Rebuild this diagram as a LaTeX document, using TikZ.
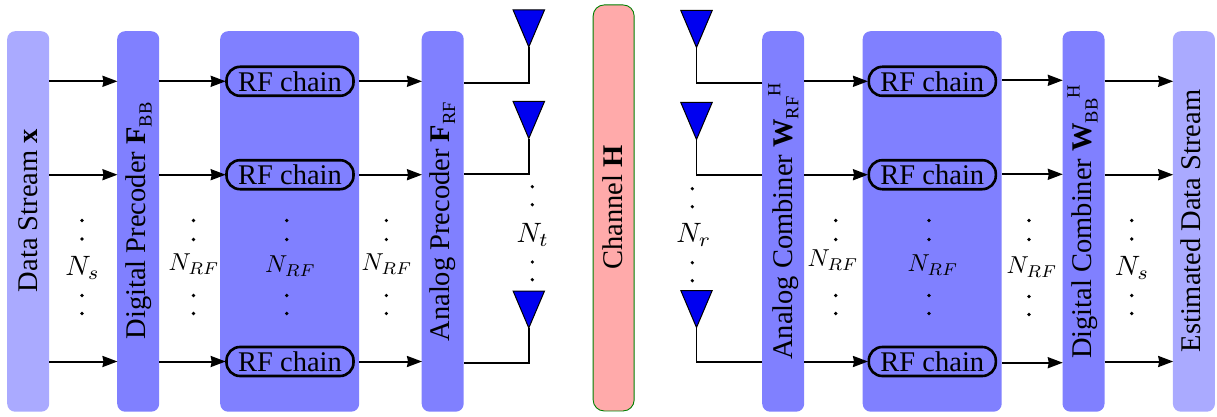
\documentclass[tikz,border=0pt]{standalone}
\usepackage{fontspec}
\usepackage{graphicx}
\setmainfont{Liberation Serif}
\usetikzlibrary{arrows.meta}
\newcommand{\lowtxt}[1]{\raisebox{-6pt}{\fontsize{18.5}{20}\selectfont #1}}
\newcommand{\hightxt}[1]{\raisebox{12pt}{\fontsize{18.5}{20}\selectfont #1}}
\newcommand{\mathlabel}[1]{\scalebox{2.45}{$#1$}}
\newcommand{\biglabel}[1]{\scalebox{2.8}{$#1$}}
\tikzset{
  x=1pt,y=-1pt,
  blockbox/.style={minimum height=380.5pt,inner sep=0pt,rounded corners=8pt,draw=none,anchor=north west},
  lightbox/.style={blockbox,fill=boxlight,minimum width=42pt},
  midbox/.style={blockbox,fill=boxmid,minimum width=42pt},
  rfbox/.style={blockbox,fill=boxmid,minimum width=139pt},
  chanbox/.style={blockbox,fill=chanfill,draw=chanedge,line width=0.9pt,minimum width=41pt,minimum height=406pt,rounded corners=11pt},
  chainbox/.style={draw=black,line width=2.6pt,rounded corners=13.5pt,minimum width=127pt,minimum height=29pt,inner sep=0pt,font=\fontsize{28.5}{30}\selectfont},
  rottext/.style={rotate=90,anchor=base,inner sep=0pt,font=\fontsize{28.5}{30}\selectfont},
  conn/.style={draw=black,line width=2pt},
  arrowconn/.style={conn,-{Stealth[length=15pt,width=11pt,inset=1pt]},shorten >=-0.5pt},
  antenna/.style={draw=black,fill=antblue,line width=1pt,line join=miter},
  feed/.style={draw=black,line width=1.7pt},
  dotmark/.style={fill=black},
  mlabel/.style={inner sep=0pt}
}
\definecolor{boxlight}{HTML}{AAAAFF}
\definecolor{boxmid}{HTML}{8080FF}
\definecolor{chanfill}{HTML}{FFAAAA}
\definecolor{chanedge}{HTML}{008000}
\definecolor{antblue}{HTML}{0000F0}
\newcommand{\antennaat}[3]{% apex name, apex x, apex y
  \coordinate (#1) at (#2,#3);
  \path[antenna] (#2,#3) -- ++(-15.7,-37) -- ++(31.4,0) -- cycle;}
\newcommand{\dotcol}[5]{%
  \foreach \yy in {#2,#3,#4,#5} {\fill[dotmark] (#1,\yy) circle (1.8);}}
\begin{document}
\begin{tikzpicture}
\path[use as bounding box] (0,0) rectangle (1217,417);
\fill[white] (0,0) rectangle (1217,417);
% row references
\coordinate (r1) at (0,81.3);
\coordinate (r2) at (0,174.7);
\coordinate (r3) at (0,361.5);
% blocks
\node[lightbox] (data) at (7,31) {};
\node[midbox] (dp) at (117,31) {};
\node[rfbox] (rfa) at (220,31) {};
\node[midbox] (ap) at (421.5,31) {};
\node[chanbox] (chan) at (592.7,4.5) {};
\node[midbox] (ac) at (762,31) {};
\node[rfbox] (rfb) at (862.5,31) {};
\node[midbox] (dc) at (1062.3,31) {};
\node[lightbox] (est) at (1172.7,31) {};
% rotated texts
\node[rottext] (t1) at (37.7,210.5) {Data Stream \textbf{x}};
\node[rottext] (t2) at (145.7,221) {Digital Precoder \textbf{F}\lowtxt{BB}};
\node[rottext] (t3) at (449,221.7) {Analog Precoder \textbf{F}\lowtxt{RF}};
\node[rottext] (t4) at (622.3,207.7) {Channel \textbf{H}};
\node[rottext] (t5) at (792.3,221.5) {Analog Combiner \textbf{W}\lowtxt{RF}\hightxt{H}};
\node[rottext] (t6) at (1091.7,222) {Digital Combiner \textbf{W}\lowtxt{BB}\hightxt{H}};
\node[rottext] (t7) at (1200,221) {Estimated Data Stream};
% RF chains
\foreach \n/\yy in {1/81.3,2/174.7,3/361.5} {
  \node[chainbox] (ca\n) at (290,\yy) {RF chain};
  \node[chainbox] (cb\n) at (932.3,\yy) {RF chain};
}
% arrows
\foreach \n in {1,2,3} {
  \draw[arrowconn] (data.east |- r\n) -- (dp.west |- r\n);
  \draw[arrowconn] (dp.east |- r\n) -- (ca\n.west);
  \draw[arrowconn] (rfa.east |- r\n) -- (ap.west |- r\n);
  \draw[arrowconn] (ac.east |- r\n) -- (cb\n.west);
  \draw[arrowconn] (dc.east |- r\n) -- (est.west |- r\n);
}
\coordinate (s1) at (0,80.3);
\coordinate (s2) at (0,174.3);
\coordinate (s3) at (0,362.7);
\foreach \n in {1,2,3} {
  \draw[arrowconn] (rfb.east |- s\n) -- (dc.west |- s\n);
}
% antennas
\antennaat{ta1}{528.8}{47}
\antennaat{ta2}{528.8}{138.5}
\antennaat{ta3}{528.8}{328}
\antennaat{ra1}{696.5}{47.5}
\antennaat{ra2}{696.5}{139.5}
\antennaat{ra3}{696.5}{327.5}
\coordinate (p1) at (0,82.7);
\coordinate (p2) at (0,174.3);
\coordinate (p3) at (0,363.3);
\coordinate (q1) at (0,83);
\coordinate (q2) at (0,175);
\coordinate (q3) at (0,362.3);
\foreach \n in {1,2,3} {
  \draw[feed] (ap.east |- p\n) -| (ta\n);
  \draw[feed] (ac.west |- q\n) -| (ra\n);
}
% dots
\dotcol{82}{220.5}{239}{295.5}{313.5}
\dotcol{193.5}{220.5}{239.5}{295.5}{313.5}
\dotcol{286.7}{220.5}{239.5}{295.5}{313.5}
\dotcol{386.3}{220.5}{239.5}{295.5}{313.5}
\dotcol{532.3}{186.7}{204.7}{262}{279.7}
\dotcol{692.3}{188.7}{206.7}{262.7}{280.7}
\dotcol{835.7}{220.5}{239.5}{295.5}{313.5}
\dotcol{929}{220.5}{239.5}{295.5}{313.5}
\dotcol{1029}{220.5}{239.5}{296.5}{314.5}
\dotcol{1131.7}{220.5}{239}{295.5}{313.5}
% labels
\node[mlabel] (l1) at (82.7,268) {\biglabel{N_s}};
\node[mlabel] (l2) at (194,264) {\mathlabel{N_{RF}}};
\node[mlabel] (l3) at (290.5,266) {\mathlabel{N_{RF}}};
\node[mlabel] (l4) at (387,264) {\mathlabel{N_{RF}}};
\node[mlabel] (l5) at (532.8,235) {\biglabel{N_t}};
\node[mlabel] (l6) at (693.7,235) {\biglabel{N_r}};
\node[mlabel] (l7) at (833,260) {\mathlabel{N_{RF}}};
\node[mlabel] (l8) at (933,265) {\mathlabel{N_{RF}}};
\node[mlabel] (l9) at (1032,267) {\mathlabel{N_{RF}}};
\node[mlabel] (l10) at (1132,268) {\biglabel{N_s}};
\end{tikzpicture}
\end{document}
